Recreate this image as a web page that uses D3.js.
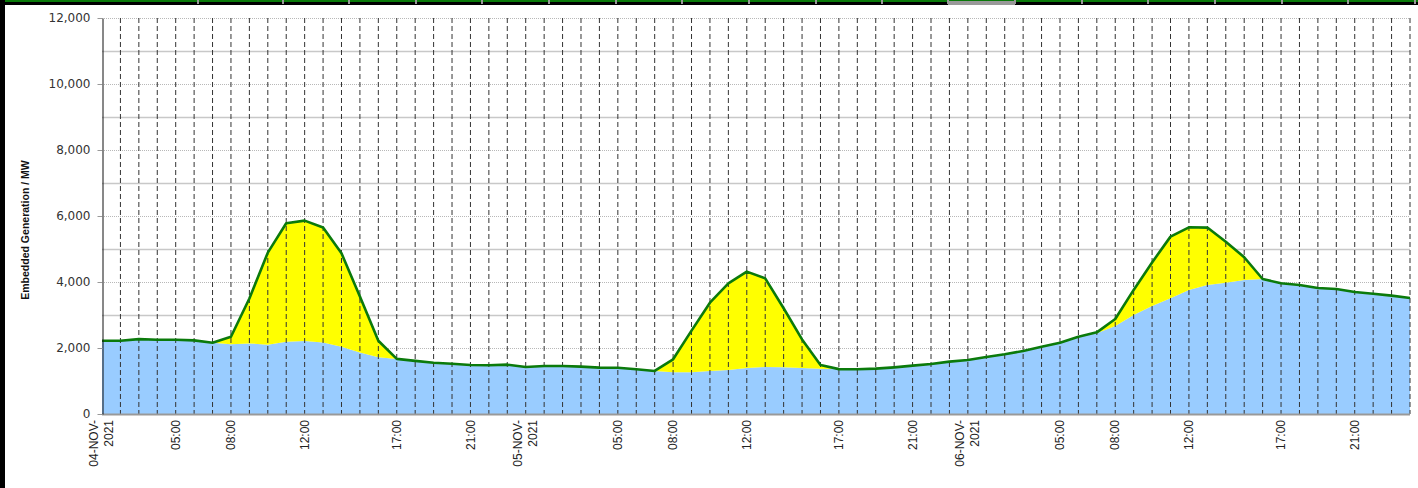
<!DOCTYPE html>
<html>
<head>
<meta charset="utf-8">
<script src="https://cdn.jsdelivr.net/npm/d3@7/dist/d3.min.js"></script>
<style>
  body { margin: 0; background: #fff; }
  svg { display: block; }
</style>
</head>
<body>
<div id="grafica"></div>
<script>
// Datos: generacion embebida por hora (MW), 04-NOV-2021 a 06-NOV-2021
// eolica (azul) y solar (amarillo, apilada encima)
const eolica = [
  2220, 2220, 2270, 2250, 2250, 2230, 2160, 2110, 2140, 2100, 2190, 2210,
  2170, 2040, 1860, 1720, 1670, 1610, 1555, 1525, 1485, 1475, 1495, 1425,
  1455, 1455, 1435, 1405, 1400, 1355, 1305, 1262, 1262, 1303, 1333, 1394,
  1424, 1414, 1394, 1374, 1360, 1355, 1375, 1414, 1465, 1515, 1586, 1636,
  1727, 1808, 1909, 2040, 2160, 2343, 2445, 2667, 3000, 3273, 3505, 3758,
  3909, 3980, 4061, 4091, 3960, 3909, 3818, 3788, 3697, 3646, 3586, 3515
]
const solar = [
     0,    0,    0,    0,    0,    0,    0,  230, 1360, 2790, 3590, 3650,
  3480, 2830, 1700,  500,    0,    0,    0,    0,    0,    0,    0,    0,
     0,    0,    0,    0,    0,    0,    0,  395, 1265, 2070, 2625, 2920,
  2685, 1790,  865,  110,    0,    0,    0,    0,    0,    0,    0,    0,
     0,    0,    0,    0,    0,    0,   30,  210,  760, 1320, 1870, 1900,
  1740, 1240,  690,    0,    0,    0,    0,    0,    0,    0,    0,    0
]

// Etiquetas del eje x (posicion = indice del punto)
const etiquetasIdx = [0, 4, 7, 11, 16, 20, 23, 28, 31, 35, 40, 44, 47, 52, 55, 59, 64, 68]
const etiquetasTxt = [
  "04-NOV-|2021", "05:00", "08:00", "12:00", "17:00", "21:00",
  "05-NOV-|2021", "05:00", "08:00", "12:00", "17:00", "21:00",
  "06-NOV-|2021", "05:00", "08:00", "12:00", "17:00", "21:00"
]
const yTicks = [0, 2000, 4000, 6000, 8000, 10000, 12000]

const ancho = 1418
const alto = 488
const izq = 102, der = 1410, arriba = 18, abajo = 414

const svg = d3.select("#grafica")
              .append("svg")
              .attr("width", ancho)
              .attr("height", alto)

// Escaladores
const x = d3.scaleLinear().domain([0, eolica.length - 1]).range([izq, der])
const y = d3.scaleLinear().domain([0, 12000]).range([abajo, arriba])

// Lineas horizontales (1000 solidas, 2000 punteadas)
svg.append("g")
   .selectAll("line")
   .data(d3.range(1000, 12001, 1000))
   .join("line")
   .attr("x1", izq)
   .attr("x2", der)
   .attr("y1", d => Math.round(y(d)) + 0.5)
   .attr("y2", d => Math.round(y(d)) + 0.5)
   .attr("stroke", d => d % 2000 === 0 ? "#b8b8b8" : "#c8c8c8")
   .attr("stroke-width", d => d % 2000 === 0 ? 1 : 1.6)
   .attr("stroke-dasharray", d => d % 2000 === 0 ? "1,1" : null)

// Areas apiladas
const datos = eolica.map((e, i) => ({ i: i, e: e, s: solar[i] }))

svg.append("path")
   .datum(datos)
   .attr("fill", "#99ccff")
   .attr("d", d3.area()
                .x(d => x(d.i))
                .y0(y(0))
                .y1(d => y(d.e)))

svg.append("path")
   .datum(datos)
   .attr("fill", "#ffff00")
   .attr("d", d3.area()
                .x(d => x(d.i))
                .y0(d => y(d.e))
                .y1(d => y(d.e + d.s)))

// Lineas verticales punteadas (una por hora)
svg.append("g")
   .selectAll("line")
   .data(datos.slice(1))
   .join("line")
   .attr("x1", d => x(d.i))
   .attr("x2", d => x(d.i))
   .attr("y1", arriba)
   .attr("y2", abajo)
   .attr("stroke", "#333")
   .attr("stroke-width", 1)
   .attr("stroke-dasharray", "5,3")

// Linea total
svg.append("path")
   .datum(datos)
   .attr("fill", "none")
   .attr("stroke", "#0b7a0b")
   .attr("stroke-width", 2.6)
   .attr("stroke-linejoin", "round")
   .attr("d", d3.line()
                .x(d => x(d.i))
                .y(d => y(d.e + d.s)))

// Eje x (linea base)
svg.append("line")
   .attr("x1", izq).attr("x2", der)
   .attr("y1", abajo + 0.5).attr("y2", abajo + 0.5)
   .attr("stroke", "#999")
   .attr("stroke-width", 2)

// Eje y
const ejeY = svg.append("g")
   .attr("transform", `translate(${izq + 0.5},0)`)
   .call(d3.axisLeft(y)
           .tickValues(yTicks)
           .tickFormat(d3.format(","))
           .tickSize(5)
           .tickPadding(7)
           .tickSizeOuter(0))
ejeY.select(".domain").attr("stroke", "#111")
ejeY.selectAll(".tick line").attr("stroke", "#999")
ejeY.selectAll("text")
    .attr("fill", "#333")
    .style("font-family", "'DejaVu Sans', sans-serif")
    .style("font-size", "12px")

// Etiquetas del eje x (rotadas)
const etiq = svg.append("g")
   .selectAll("text")
   .data(etiquetasIdx)
   .join("text")
   .attr("transform", d => `translate(${x(d)},${abajo + 6}) rotate(-90)`)
   .attr("text-anchor", "end")
   .attr("fill", "#222")
   .style("font-family", "'Liberation Sans', Arial, sans-serif")
   .style("font-size", "12px")

etiq.each(function(d, i) {
  const partes = etiquetasTxt[i].split("|")
  const t = d3.select(this)
  if (partes.length === 1) {
    t.append("tspan").attr("x", 0).attr("dy", "0.35em").text(partes[0])
  } else {
    t.append("tspan").attr("x", 0).attr("dy", "-0.3em").text(partes[0])
    t.append("tspan").attr("x", 0).attr("dy", "1.25em").text(partes[1])
  }
})

// Titulo eje y
svg.append("text")
   .attr("transform", "translate(29,230) rotate(-90)")
   .attr("text-anchor", "middle")
   .attr("fill", "#111")
   .style("font-family", "'Liberation Sans', Arial, sans-serif")
   .style("font-size", "10.5px")
   .style("font-weight", "bold")
   .text("Embedded Generation / MW")

// Marco
svg.append("rect").attr("x", 0).attr("y", 0).attr("width", 5).attr("height", alto).attr("fill", "#000")
svg.append("rect").attr("x", 0).attr("y", 0).attr("width", ancho).attr("height", 5).attr("fill", "#000")
svg.append("rect").attr("x", 5).attr("y", 0).attr("width", ancho - 5).attr("height", 2).attr("fill", "#0a7a0a")
svg.append("rect").attr("x", 948).attr("y", 1).attr("width", 67).attr("height", 4).attr("fill", "#999")
svg.append("g")
   .selectAll("rect")
   .data([198, 283, 349, 416, 482, 549, 616, 682, 749, 816, 882, 948, 1015, 1082, 1148, 1215, 1282, 1348, 1415])
   .join("rect")
   .attr("x", d => d - 1)
   .attr("y", 0)
   .attr("width", 2)
   .attr("height", 4)
   .attr("fill", "#999")
</script>
</body>
</html>
